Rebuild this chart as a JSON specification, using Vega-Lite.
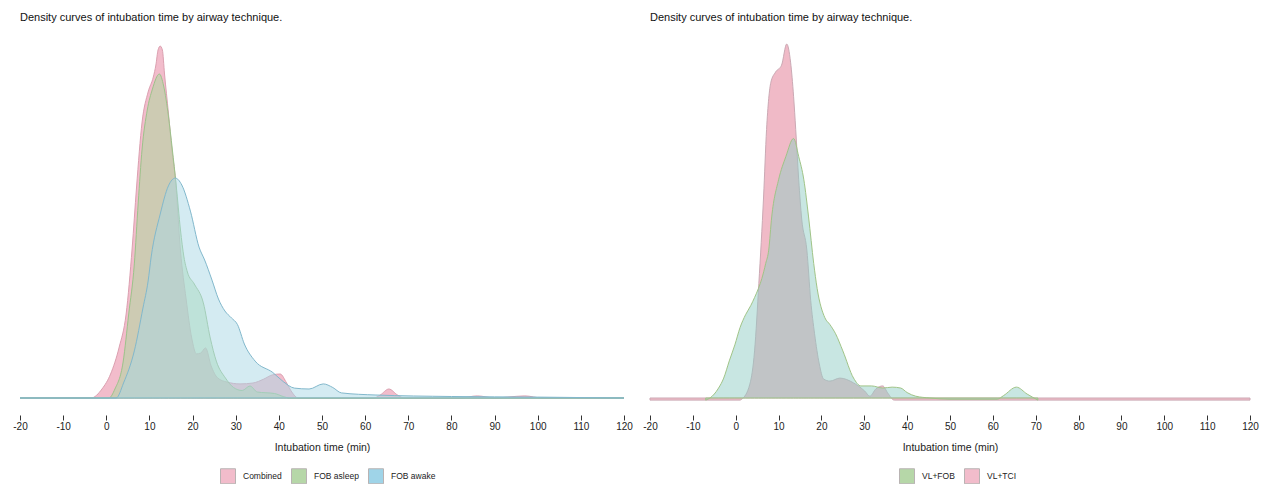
{
  "$schema": "https://vega.github.io/schema/vega-lite/v6.json",
  "background": "white",
  "padding": {"left": 12, "right": 4, "top": 12, "bottom": 0},
  "spacing": 9,
  "config": {
    "view": {"stroke": null},
    "font": "Liberation Sans",
    "title": {"fontSize": 11, "fontWeight": "normal", "anchor": "start", "frame": "group", "color": "#111111", "offset": 15},
    "axis": {
      "domain": false, "grid": false, "ticks": true, "tickSize": 5, "tickColor": "#333333", "tickWidth": 1,
      "labelFontSize": 10, "labelColor": "#222222", "labelPadding": 1, "labelFlush": false, "labelOverlap": false,
      "labelExpr": "'' + datum.value",
      "titleFontSize": 10.5, "titleFontWeight": "normal", "titleColor": "#222222", "titlePadding": 11, "offset": 17
    },
    "legend": {
      "orient": "none", "direction": "horizontal", "title": null, "symbolType": "square", "symbolSize": 225,
      "symbolStrokeWidth": 1, "symbolStrokeColor": "#b9b3b3", "labelFontSize": 8.5, "labelColor": "#222222", "labelOffset": 7, "columnPadding": 7, "symbolOpacity": 1
    }
  },
  "datasets": {
    "left": [
      {"technique": "Combined", "time": -20, "density": 0},
      {"technique": "Combined", "time": -3.5, "density": 0},
      {"technique": "Combined", "time": -1, "density": 0.003},
      {"technique": "Combined", "time": 1, "density": 0.008},
      {"technique": "Combined", "time": 3, "density": 0.017},
      {"technique": "Combined", "time": 4.6, "density": 0.028},
      {"technique": "Combined", "time": 6, "density": 0.05},
      {"technique": "Combined", "time": 7, "density": 0.07},
      {"technique": "Combined", "time": 8.3, "density": 0.092},
      {"technique": "Combined", "time": 9.7, "density": 0.102},
      {"technique": "Combined", "time": 10.9, "density": 0.107},
      {"technique": "Combined", "time": 11.5, "density": 0.111},
      {"technique": "Combined", "time": 12, "density": 0.116},
      {"technique": "Combined", "time": 12.5, "density": 0.1173},
      {"technique": "Combined", "time": 13, "density": 0.116},
      {"technique": "Combined", "time": 13.5, "density": 0.108},
      {"technique": "Combined", "time": 14.4, "density": 0.095},
      {"technique": "Combined", "time": 15.2, "density": 0.083},
      {"technique": "Combined", "time": 16, "density": 0.0733},
      {"technique": "Combined", "time": 17.2, "density": 0.049},
      {"technique": "Combined", "time": 18.5, "density": 0.033},
      {"technique": "Combined", "time": 19.8, "density": 0.02},
      {"technique": "Combined", "time": 20.9, "density": 0.0147},
      {"technique": "Combined", "time": 21.9, "density": 0.015},
      {"technique": "Combined", "time": 23, "density": 0.0167},
      {"technique": "Combined", "time": 24.3, "density": 0.0107},
      {"technique": "Combined", "time": 25.8, "density": 0.0067},
      {"technique": "Combined", "time": 28, "density": 0.0053},
      {"technique": "Combined", "time": 31, "density": 0.0047},
      {"technique": "Combined", "time": 34, "density": 0.005},
      {"technique": "Combined", "time": 36.5, "density": 0.0063},
      {"technique": "Combined", "time": 38.5, "density": 0.0077},
      {"technique": "Combined", "time": 40.3, "density": 0.008},
      {"technique": "Combined", "time": 41.8, "density": 0.005},
      {"technique": "Combined", "time": 43, "density": 0.002},
      {"technique": "Combined", "time": 44.5, "density": 0},
      {"technique": "Combined", "time": 62, "density": 0},
      {"technique": "Combined", "time": 63.5, "density": 0.001},
      {"technique": "Combined", "time": 65.5, "density": 0.003},
      {"technique": "Combined", "time": 67.5, "density": 0.001},
      {"technique": "Combined", "time": 69, "density": 0},
      {"technique": "Combined", "time": 82, "density": 0},
      {"technique": "Combined", "time": 86, "density": 0.0007},
      {"technique": "Combined", "time": 90, "density": 0},
      {"technique": "Combined", "time": 93, "density": 0.0003},
      {"technique": "Combined", "time": 97, "density": 0.0007},
      {"technique": "Combined", "time": 101, "density": 0},
      {"technique": "Combined", "time": 120, "density": 0},

      {"technique": "FOB asleep", "time": -20, "density": 0},
      {"technique": "FOB asleep", "time": 0.6, "density": 0},
      {"technique": "FOB asleep", "time": 2, "density": 0.003},
      {"technique": "FOB asleep", "time": 3.9, "density": 0.012},
      {"technique": "FOB asleep", "time": 5.2, "density": 0.028},
      {"technique": "FOB asleep", "time": 6.5, "density": 0.0447},
      {"technique": "FOB asleep", "time": 7.4, "density": 0.065},
      {"technique": "FOB asleep", "time": 8.3, "density": 0.083},
      {"technique": "FOB asleep", "time": 9.5, "density": 0.096},
      {"technique": "FOB asleep", "time": 10.7, "density": 0.103},
      {"technique": "FOB asleep", "time": 12.3, "density": 0.108},
      {"technique": "FOB asleep", "time": 13.3, "density": 0.104},
      {"technique": "FOB asleep", "time": 14.4, "density": 0.094},
      {"technique": "FOB asleep", "time": 15.3, "density": 0.083},
      {"technique": "FOB asleep", "time": 16.2, "density": 0.071},
      {"technique": "FOB asleep", "time": 17.2, "density": 0.056},
      {"technique": "FOB asleep", "time": 18, "density": 0.047},
      {"technique": "FOB asleep", "time": 18.8, "density": 0.042},
      {"technique": "FOB asleep", "time": 20.4, "density": 0.038},
      {"technique": "FOB asleep", "time": 22.5, "density": 0.0317},
      {"technique": "FOB asleep", "time": 24.1, "density": 0.02},
      {"technique": "FOB asleep", "time": 25.5, "density": 0.0123},
      {"technique": "FOB asleep", "time": 27.6, "density": 0.0067},
      {"technique": "FOB asleep", "time": 29.5, "density": 0.0035},
      {"technique": "FOB asleep", "time": 31.5, "density": 0.0025},
      {"technique": "FOB asleep", "time": 33.3, "density": 0.004},
      {"technique": "FOB asleep", "time": 35, "density": 0.002},
      {"technique": "FOB asleep", "time": 39, "density": 0.0015},
      {"technique": "FOB asleep", "time": 41, "density": 0.0005},
      {"technique": "FOB asleep", "time": 42.5, "density": 0},
      {"technique": "FOB asleep", "time": 120, "density": 0},

      {"technique": "FOB awake", "time": -20, "density": 0},
      {"technique": "FOB awake", "time": 2.3, "density": 0},
      {"technique": "FOB awake", "time": 4, "density": 0.005},
      {"technique": "FOB awake", "time": 6.5, "density": 0.0157},
      {"technique": "FOB awake", "time": 8.5, "density": 0.03},
      {"technique": "FOB awake", "time": 9.7, "density": 0.039},
      {"technique": "FOB awake", "time": 10.4, "density": 0.047},
      {"technique": "FOB awake", "time": 12.5, "density": 0.0613},
      {"technique": "FOB awake", "time": 14.4, "density": 0.0707},
      {"technique": "FOB awake", "time": 16, "density": 0.0733},
      {"technique": "FOB awake", "time": 17.5, "density": 0.071},
      {"technique": "FOB awake", "time": 19.5, "density": 0.0623},
      {"technique": "FOB awake", "time": 21.5, "density": 0.0503},
      {"technique": "FOB awake", "time": 22.8, "density": 0.046},
      {"technique": "FOB awake", "time": 24.5, "density": 0.0393},
      {"technique": "FOB awake", "time": 26, "density": 0.033},
      {"technique": "FOB awake", "time": 27.5, "density": 0.029},
      {"technique": "FOB awake", "time": 29, "density": 0.0267},
      {"technique": "FOB awake", "time": 30.4, "density": 0.0245},
      {"technique": "FOB awake", "time": 32, "density": 0.018},
      {"technique": "FOB awake", "time": 34.5, "density": 0.0123},
      {"technique": "FOB awake", "time": 38.6, "density": 0.0085},
      {"technique": "FOB awake", "time": 41, "density": 0.0055},
      {"technique": "FOB awake", "time": 43.6, "density": 0.0033},
      {"technique": "FOB awake", "time": 47, "density": 0.003},
      {"technique": "FOB awake", "time": 50.3, "density": 0.0047},
      {"technique": "FOB awake", "time": 52.5, "density": 0.0035},
      {"technique": "FOB awake", "time": 54.5, "density": 0.0017},
      {"technique": "FOB awake", "time": 62.5, "density": 0.001},
      {"technique": "FOB awake", "time": 80, "density": 0.0005},
      {"technique": "FOB awake", "time": 100, "density": 0.0003},
      {"technique": "FOB awake", "time": 120, "density": 0}
    ],
    "right": [
      {"technique": "VL+TCI", "time": -20, "density": 0},
      {"technique": "VL+TCI", "time": 1, "density": 0},
      {"technique": "VL+TCI", "time": 1.4, "density": 0.0003},
      {"technique": "VL+TCI", "time": 3.3, "density": 0.0053},
      {"technique": "VL+TCI", "time": 4.4, "density": 0.0163},
      {"technique": "VL+TCI", "time": 5.4, "density": 0.0387},
      {"technique": "VL+TCI", "time": 6.5, "density": 0.0673},
      {"technique": "VL+TCI", "time": 7.2, "density": 0.0897},
      {"technique": "VL+TCI", "time": 8.2, "density": 0.1053},
      {"technique": "VL+TCI", "time": 9.3, "density": 0.1087},
      {"technique": "VL+TCI", "time": 10.7, "density": 0.111},
      {"technique": "VL+TCI", "time": 11.9, "density": 0.118},
      {"technique": "VL+TCI", "time": 12.8, "density": 0.112},
      {"technique": "VL+TCI", "time": 13.5, "density": 0.1007},
      {"technique": "VL+TCI", "time": 14, "density": 0.0897},
      {"technique": "VL+TCI", "time": 14.7, "density": 0.073},
      {"technique": "VL+TCI", "time": 15.4, "density": 0.06},
      {"technique": "VL+TCI", "time": 16.6, "density": 0.0497},
      {"technique": "VL+TCI", "time": 17.5, "density": 0.033},
      {"technique": "VL+TCI", "time": 18.4, "density": 0.022},
      {"technique": "VL+TCI", "time": 19.5, "density": 0.012},
      {"technique": "VL+TCI", "time": 20.5, "density": 0.007},
      {"technique": "VL+TCI", "time": 22, "density": 0.0063},
      {"technique": "VL+TCI", "time": 24.3, "density": 0.0073},
      {"technique": "VL+TCI", "time": 27.5, "density": 0.0057},
      {"technique": "VL+TCI", "time": 30.1, "density": 0.003},
      {"technique": "VL+TCI", "time": 31.3, "density": 0.0013},
      {"technique": "VL+TCI", "time": 32.7, "density": 0.0037},
      {"technique": "VL+TCI", "time": 34.3, "density": 0.0047},
      {"technique": "VL+TCI", "time": 35.5, "density": 0.0023},
      {"technique": "VL+TCI", "time": 37, "density": 0},
      {"technique": "VL+TCI", "time": 120, "density": 0},

      {"technique": "VL+FOB", "time": -7, "density": 0},
      {"technique": "VL+FOB", "time": -6, "density": 0.0007},
      {"technique": "VL+FOB", "time": -4, "density": 0.004},
      {"technique": "VL+FOB", "time": -2.8, "density": 0.0073},
      {"technique": "VL+FOB", "time": -1.5, "density": 0.013},
      {"technique": "VL+FOB", "time": -0.2, "density": 0.0183},
      {"technique": "VL+FOB", "time": 1, "density": 0.024},
      {"technique": "VL+FOB", "time": 2.3, "density": 0.0283},
      {"technique": "VL+FOB", "time": 3.5, "density": 0.0313},
      {"technique": "VL+FOB", "time": 4.4, "density": 0.034},
      {"technique": "VL+FOB", "time": 5.3, "density": 0.037},
      {"technique": "VL+FOB", "time": 6.1, "density": 0.0403},
      {"technique": "VL+FOB", "time": 7, "density": 0.0453},
      {"technique": "VL+FOB", "time": 7.7, "density": 0.0497},
      {"technique": "VL+FOB", "time": 8.4, "density": 0.0607},
      {"technique": "VL+FOB", "time": 10, "density": 0.073},
      {"technique": "VL+FOB", "time": 11.7, "density": 0.0807},
      {"technique": "VL+FOB", "time": 13.5, "density": 0.0867},
      {"technique": "VL+FOB", "time": 14.7, "density": 0.0807},
      {"technique": "VL+FOB", "time": 15.9, "density": 0.073},
      {"technique": "VL+FOB", "time": 17, "density": 0.0607},
      {"technique": "VL+FOB", "time": 18.2, "density": 0.0453},
      {"technique": "VL+FOB", "time": 19, "density": 0.037},
      {"technique": "VL+FOB", "time": 20.8, "density": 0.0273},
      {"technique": "VL+FOB", "time": 22, "density": 0.025},
      {"technique": "VL+FOB", "time": 23.3, "density": 0.022},
      {"technique": "VL+FOB", "time": 25, "density": 0.0163},
      {"technique": "VL+FOB", "time": 27.5, "density": 0.0073},
      {"technique": "VL+FOB", "time": 29.2, "density": 0.0047},
      {"technique": "VL+FOB", "time": 31.7, "density": 0.0047},
      {"technique": "VL+FOB", "time": 34.3, "density": 0.004},
      {"technique": "VL+FOB", "time": 36.5, "density": 0.0043},
      {"technique": "VL+FOB", "time": 38.5, "density": 0.004},
      {"technique": "VL+FOB", "time": 40, "density": 0.0025},
      {"technique": "VL+FOB", "time": 42, "density": 0.0013},
      {"technique": "VL+FOB", "time": 45.3, "density": 0.0007},
      {"technique": "VL+FOB", "time": 50, "density": 0.0003},
      {"technique": "VL+FOB", "time": 61, "density": 0.0003},
      {"technique": "VL+FOB", "time": 62.5, "density": 0.0015},
      {"technique": "VL+FOB", "time": 65.5, "density": 0.0043},
      {"technique": "VL+FOB", "time": 68, "density": 0.002},
      {"technique": "VL+FOB", "time": 70.5, "density": 0}
    ]
  },
  "hconcat": [
    {
      "width": 604,
      "height": 360,
      "title": "Density curves of intubation time by airway technique.",
      "data": {"name": "left"},
      "layer": [
        {
          "mark": {"type": "area", "interpolate": "monotone", "fillOpacity": 0.5, "strokeWidth": 1, "strokeOpacity": 1},
          "encoding": {
            "x": {"field": "time", "type": "quantitative", "scale": {"domain": [-20, 120], "nice": false, "zero": false},
                  "axis": {"values": [-20, -10, 0, 10, 20, 30, 40, 50, 60, 70, 80, 90, 100, 110, 120], "title": "Intubation time (min)"}},
            "y": {"field": "density", "type": "quantitative", "stack": null, "scale": {"domain": [0, 0.12], "nice": false}, "axis": null},
            "fill": {"field": "technique", "type": "nominal",
                     "scale": {"range": ["#e57997", "#a8da9b", "#a9d7e5"]},
                     "legend": null},
            "stroke": {"field": "technique", "type": "nominal",
                       "scale": {"range": ["#dba0b0", "#9cc38a", "#82b8cc"]},
                       "legend": null}
          }
        },
        {
          "mark": {"type": "square", "filled": true, "size": 0},
          "encoding": {
            "x": {"field": "time", "type": "quantitative"},
            "y": {"field": "density", "type": "quantitative"},
            "color": {"field": "technique", "type": "nominal",
                      "scale": {"domain": ["Combined", "FOB asleep", "FOB awake"], "range": ["#f2bccb", "#b6d7a8", "#9fd4e8"]},
                      "legend": {"legendX": 200, "legendY": 430, "symbolSize": 225, "symbolOpacity": 1}}
          }
        }
      ]
    },
    {
      "width": 600,
      "height": 360,
      "title": "Density curves of intubation time by airway technique.",
      "data": {"name": "right"},
      "layer": [
        {
          "mark": {"type": "area", "interpolate": "monotone", "fillOpacity": 0.5, "strokeWidth": 1, "strokeOpacity": 1},
          "encoding": {
            "x": {"field": "time", "type": "quantitative", "scale": {"domain": [-20, 120], "nice": false, "zero": false},
                  "axis": {"values": [-20, -10, 0, 10, 20, 30, 40, 50, 60, 70, 80, 90, 100, 110, 120], "title": "Intubation time (min)"}},
            "y": {"field": "density", "type": "quantitative", "stack": null, "scale": {"domain": [0.0007, 0.12], "nice": false, "zero": false}, "axis": null},
            "fill": {"field": "technique", "type": "nominal",
                     "scale": {"range": ["#91cdc5", "#e1758f"]},
                     "legend": null},
            "stroke": {"field": "technique", "type": "nominal",
                       "scale": {"range": ["#a0c487", "#cba9b4"]},
                       "legend": null}
          }
        },
        {
          "mark": {"type": "square", "filled": true, "size": 0},
          "encoding": {
            "x": {"field": "time", "type": "quantitative"},
            "y": {"field": "density", "type": "quantitative"},
            "color": {"field": "technique", "type": "nominal",
                      "scale": {"domain": ["VL+FOB", "VL+TCI"], "range": ["#b6d7a8", "#f2bccb"]},
                      "legend": {"legendX": 249, "legendY": 430, "symbolSize": 225, "symbolOpacity": 1}}
          }
        }
      ]
    }
  ],
  "resolve": {"scale": {"color": "independent", "fill": "independent", "stroke": "independent", "x": "independent", "y": "independent"}, "legend": {"color": "independent"}}
}
